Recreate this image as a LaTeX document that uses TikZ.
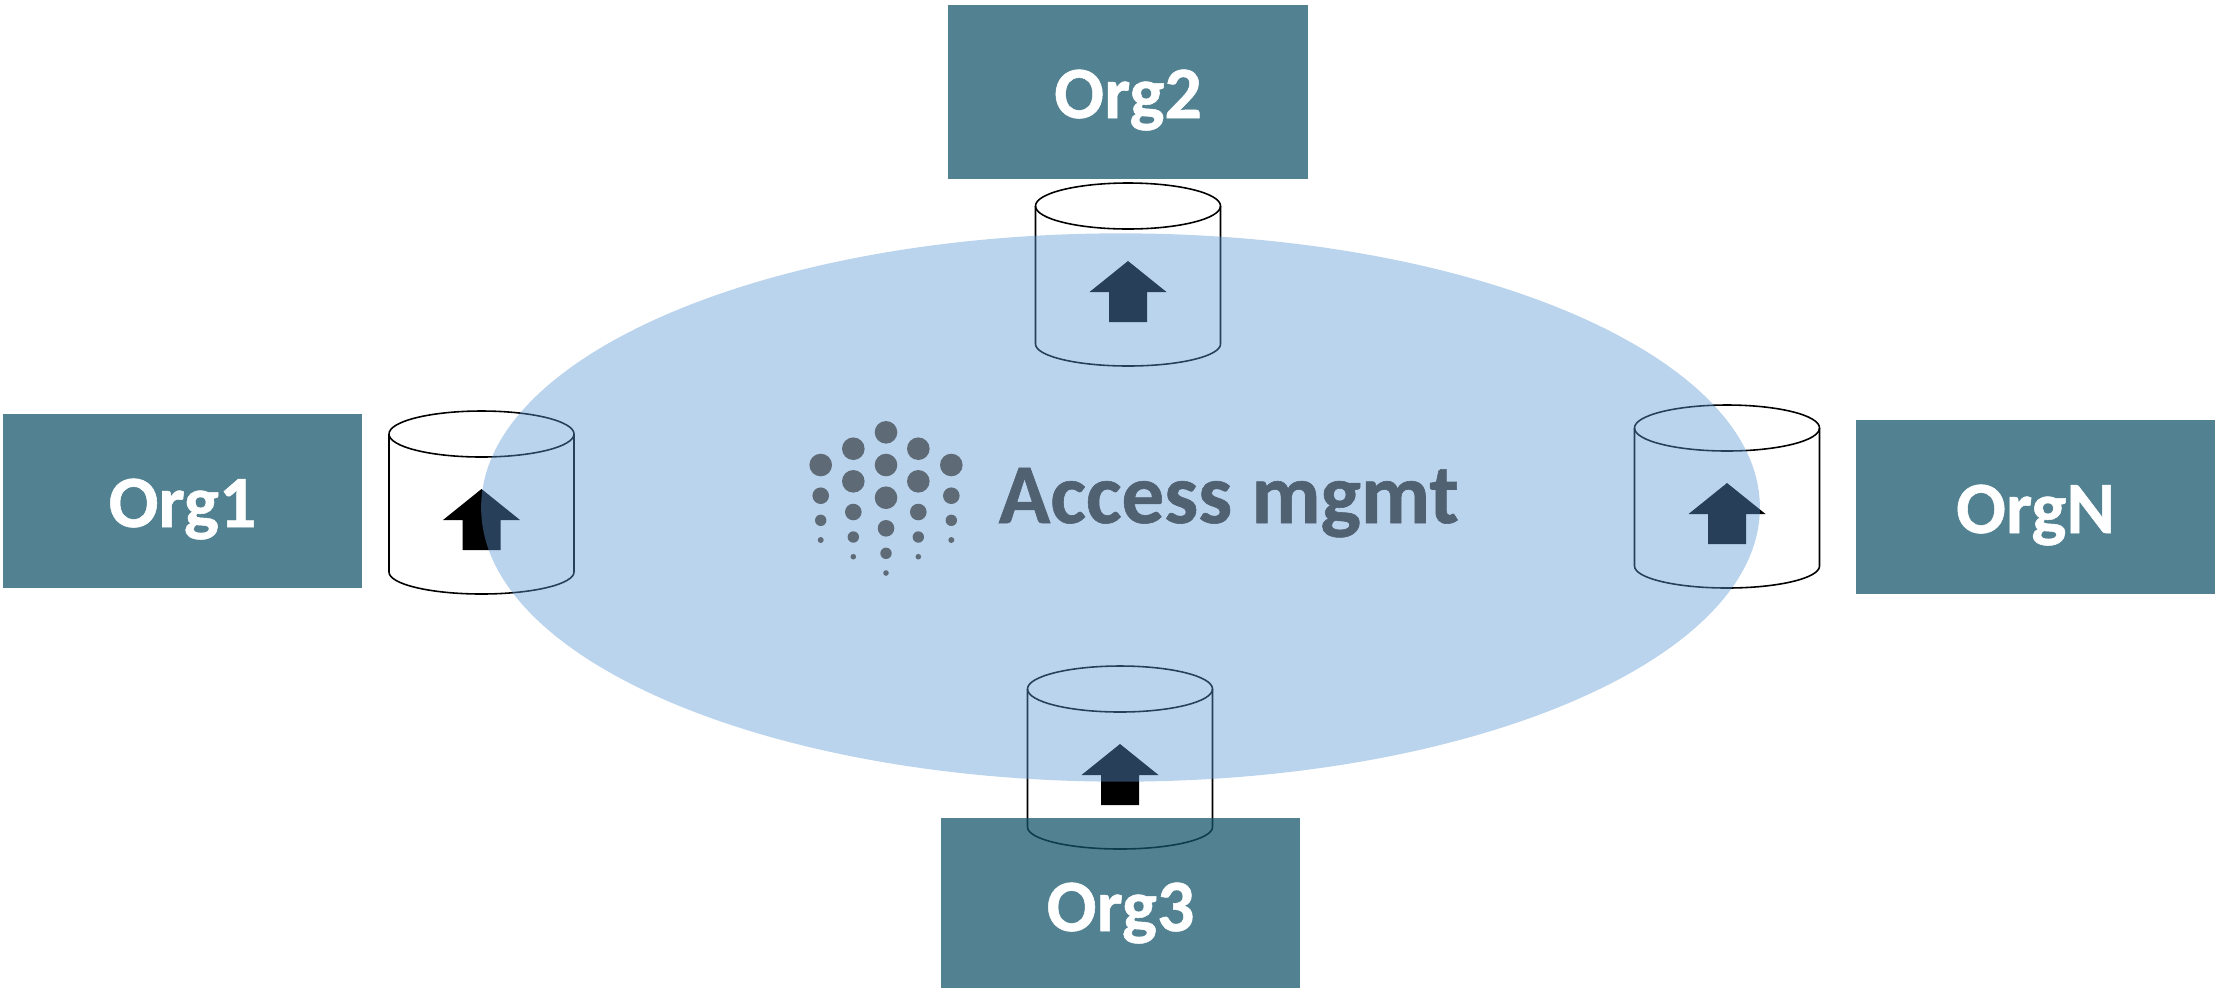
\documentclass[tikz,border=0pt]{standalone}
\usepackage{fontspec}
\usepackage{xcolor}
\usetikzlibrary{shapes.geometric}
\setmainfont[BoldFeatures={FakeBold=0.7}]{Carlito}
\definecolor{orgteal}{RGB}{18,84,105}
\definecolor{mgmtblue}{RGB}{93,152,212}
\definecolor{logogrey}{RGB}{94,107,118}
\definecolor{mgmttext}{RGB}{80,97,114}
\tikzset{
    orgbox/.style={fill=orgteal,fill opacity=0.73,text opacity=1,text=white,minimum width=3.59cm,minimum height=1.74cm,inner sep=0pt,text height=0.52cm,text depth=0pt,font=\fontsize{21}{25}\bfseries},
    mgmtoval/.style={ellipse,fill=mgmtblue,fill opacity=0.42,minimum width=12.78cm,minimum height=5.48cm,inner sep=0pt},
    tank/.style={draw=black,line width=0.45pt},
}
\begin{document}
\begin{tikzpicture}[x=0.01cm,y=-0.01cm]
    \clip (0,0) rectangle (2216,987);
    % tanks with their arrows
    \foreach \tankx/\tanky in {481.5/434, 1128/206, 1727/428, 1120/689} {
        \begin{scope}[shift={(\tankx,\tanky)}]
            \fill[black] (0,55) -- (38.5,86) -- (19,86) -- (19,116) -- (-19,116) -- (-19,86) -- (-38.5,86) -- cycle;
            \draw[tank] (0,0) ellipse [x radius=92.5,y radius=23];
            \draw[tank] (-92.5,0) -- (-92.5,138) arc [start angle=180,end angle=0,x radius=92.5,y radius=22] -- (92.5,0);
        \end{scope}
    }
    \node[mgmtoval] (mgmt) at (1120.5,507.5) {};
    % logo dots
    \foreach \col/\dotx/\doty/\dotr in {
        1/820.7/465/11.3, 1/820.7/495.7/8.3, 1/820.7/520.3/5.7, 1/820.7/540/3,
        2/853.3/448.7/11.3, 2/853.3/481.3/11.3, 2/853.3/512/8.3, 2/853.3/537/5.7, 2/853.3/556.7/2.8,
        3/886/432.3/11.3, 3/886/465/11.3, 3/886/497.7/11.3, 3/886/528.3/8.3, 3/886/553.3/5.7, 3/886/573/2.8,
        4/918.3/448.7/11.3, 4/918.3/481.3/11.3, 4/918.3/512/8.3, 4/918.3/537/5.7, 4/918.3/556.7/2.8,
        5/951.3/465/11.3, 5/951.3/495.7/8.3, 5/951.3/520.3/5.7, 5/951.3/540/3} {
        \fill[logogrey] (\dotx,\doty) circle [radius=\dotr];
    }
    \node[anchor=base west,inner sep=0pt,text=mgmttext,font=\fontsize{24.2}{29}\bfseries] (mgmtlabel) at (998,523) {Access mgmt};
    \foreach \orgname/\orgx/\orgy in {Org1/182.5/501, Org2/1128/92, OrgN/2035.5/507, Org3/1120.5/905} {
        \node[orgbox] (\orgname) at (\orgx,\orgy) {\orgname};
    }
\end{tikzpicture}
\end{document}
